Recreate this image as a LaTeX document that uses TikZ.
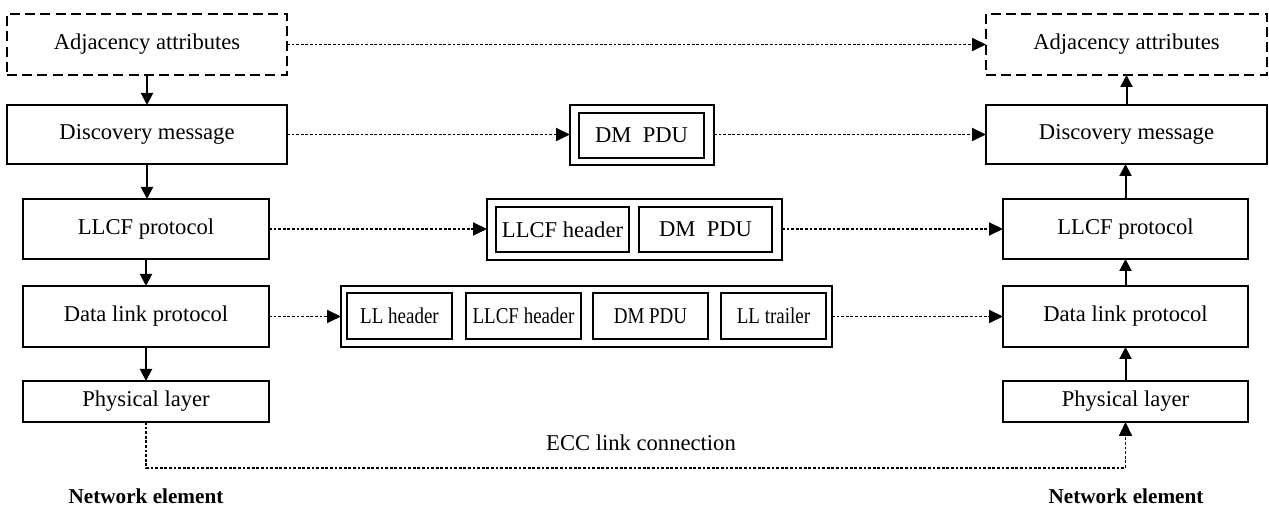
\documentclass[tikz,border=0pt]{standalone}
\usepackage{fontspec}
\setmainfont{Liberation Serif}
\usetikzlibrary{arrows.meta}
\begin{document}
\begin{tikzpicture}[x=0.5pt,y=-0.5pt,
  every node/.style={inner sep=0pt,outer sep=0pt,font=\fontsize{11.3}{13}\selectfont},
  plainbox/.style={draw,line width=0.55pt},
  dashbox/.style={draw,line width=0.9pt,dash pattern=on 5pt off 2.6pt},
  solidarrow/.style={line width=1pt,-{Triangle[length=6pt,width=6pt]}},
  dotline/.style={line width=0.9pt,dash pattern=on 1.4pt off 0.9pt},
  dotarrow/.style={dotline,-{Triangle[length=7pt,width=6.5pt]}}
]
\useasboundingbox (0,0) rectangle (1269,506);
% left stack
\node[dashbox,minimum width=140pt,minimum height=30.5pt] (adjL) at (147,44.5) {Adjacency attributes};
\node[plainbox,minimum width=140pt,minimum height=29.5pt] (discL) at (147,134.5) {Discovery message};
\node[plainbox,minimum width=123pt,minimum height=30pt] (llcfL) at (146,229) {LLCF protocol};
\node[plainbox,minimum width=123pt,minimum height=30.5pt] (dlL) at (146,316.5) {Data link protocol};
\node[plainbox,minimum width=123pt,minimum height=20.5pt] (phL) at (146,401.5) {Physical layer};
% right stack
\node[dashbox,minimum width=140.5pt,minimum height=30.5pt] (adjR) at (1126.5,44.5) {Adjacency attributes};
\node[plainbox,minimum width=140.5pt,minimum height=29.5pt] (discR) at (1126.5,134.5) {Discovery message};
\node[plainbox,minimum width=122.5pt,minimum height=30pt] (llcfR) at (1125.5,229) {LLCF protocol};
\node[plainbox,minimum width=122.5pt,minimum height=30.5pt] (dlR) at (1125.5,316.5) {Data link protocol};
\node[plainbox,minimum width=122.5pt,minimum height=20.5pt] (phR) at (1125.5,401.5) {Physical layer};
% middle PDUs
\node[plainbox,minimum width=72pt,minimum height=30pt] (dmo) at (642,135) {};
\node[plainbox,minimum width=62.5pt,minimum height=22.5pt] (dmi) at (641.5,135.5) {DM\ \ PDU};
\node[plainbox,minimum width=147.5pt,minimum height=30.5pt] (llo) at (634.5,229.5) {};
\node[plainbox,minimum width=66.5pt,minimum height=22.5pt] (llh) at (562.5,229.5) {LLCF header};
\node[plainbox,minimum width=66.5pt,minimum height=22.5pt] (lld) at (705.5,229.5) {DM\ \ PDU};
\node[plainbox,minimum width=245.5pt,minimum height=30.5pt] (dlo) at (586.5,316.5) {};
\node[plainbox,minimum width=52.5pt,minimum height=23pt] (dl1) at (399.5,316) {\scalebox{0.84}[1]{LL header}};
\node[plainbox,minimum width=57.5pt,minimum height=23pt] (dl2) at (523.5,316) {\scalebox{0.84}[1]{LLCF header}};
\node[plainbox,minimum width=57.5pt,minimum height=23pt] (dl3) at (650.5,316) {\scalebox{0.84}[1]{DM PDU}};
\node[plainbox,minimum width=52.5pt,minimum height=23pt] (dl4) at (773.5,316) {\scalebox{0.84}[1]{LL trailer}};
% vertical arrows
\draw[solidarrow] (adjL.south) -- (discL.north);
\draw[solidarrow] (discL.south) -- (discL.south |- llcfL.north);
\draw[solidarrow] (llcfL.south) -- (dlL.north);
\draw[solidarrow] (dlL.south) -- (phL.north);
\draw[solidarrow] (discR.north) -- (adjR.south);
\draw[solidarrow] (llcfR.north) -- (llcfR.north |- discR.south);
\draw[solidarrow] (dlR.north) -- (llcfR.south);
\draw[solidarrow] (phR.north) -- (dlR.south);
% dotted arrows
\draw[dotarrow] (adjL.east) -- (adjR.west);
\draw[dotarrow] (discL.east) -- (discL.east -| dmo.west);
\draw[dotarrow] (dmo.east |- discR.west) -- (discR.west);
\draw[dotarrow] (llcfL.east) -- (llcfL.east -| llo.west);
\draw[dotarrow] (llo.east |- llcfR.west) -- (llcfR.west);
\draw[dotarrow] (dlL.east) -- (dlL.east -| dlo.west);
\draw[dotarrow] (dlo.east |- dlR.west) -- (dlR.west);
% ECC link
\coordinate (ecc) at (640,468);
\draw[dotarrow] (phL.south) -- (phL.south |- ecc) -- (phR.south |- ecc) -- (phR.south);
\node (ecclabel) at (641,443) {ECC link connection};
\node[font=\fontsize{10.6}{13}\selectfont\bfseries] (neL) at (146,496) {Network element};
\node[font=\fontsize{10.6}{13}\selectfont\bfseries] (neR) at (1126,496) {Network element};
\end{tikzpicture}
\end{document}
